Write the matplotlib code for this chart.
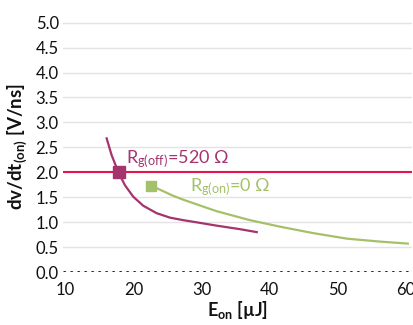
import matplotlib
matplotlib.use("Agg")
import matplotlib.pyplot as plt
import numpy as np

plt.rcParams['font.family'] = ['Lato', 'DejaVu Sans']
plt.rcParams['mathtext.default'] = 'regular'

# Data
off_x = [16.05, 16.78, 17.75, 18.74, 19.96, 21.42, 23.39, 25.37, 27.3, 28.9, 32.2, 35.6, 38.1]
off_y = [2.68, 2.345, 2.01, 1.74, 1.51, 1.33, 1.18, 1.09, 1.04, 1.005, 0.93, 0.86, 0.80]
on_x = [22.5, 23.1, 25.8, 27.3, 30.7, 32.2, 37.1, 41.5, 46.4, 51.3, 56.2, 60.3]
on_y = [1.72, 1.70, 1.53, 1.45, 1.29, 1.22, 1.04, 0.91, 0.78, 0.67, 0.61, 0.57]
off_marker = (17.8, 2.0)
on_marker = (22.5, 1.72)
limit_y = 2.0
yticks = [0.0, 0.5, 1.0, 1.5, 2.0, 2.5, 3.0, 3.5, 4.0, 4.5, 5.0]
xticks = [10, 20, 30, 40, 50, 60]

MAG = '#a5336e'
RED = '#e3154a'
GRN = '#a4c16a'

fig = plt.figure(figsize=(4.14, 3.25), dpi=100)
ax = fig.add_axes([0.152, 0.163, 0.843, 0.775])

ax.set_xlim(9.63, 60.9)
ax.set_ylim(0, 5.05)
ax.set_yticks(yticks)
ax.set_yticklabels([f"{v:.1f}" for v in yticks])
ax.set_xticks(xticks)
ax.grid(axis='y', color='#e6e2e4', linewidth=1.0)
ax.set_axisbelow(True)
for s in ax.spines.values():
    s.set_visible(False)
ax.tick_params(length=0, labelsize=12, pad=3, labelcolor='#111111')
ax.tick_params(axis='x', pad=7)

ax.axhline(0, color='black', linestyle=(0, (0.9, 1.75)), linewidth=1.9,
           zorder=3)
ax.axhline(limit_y, color=RED, linewidth=1.5, zorder=2)

ax.plot(off_x, off_y, color=MAG, linewidth=1.6, zorder=3, solid_joinstyle='round')
ax.plot(on_x, on_y, color=GRN, linewidth=1.6, zorder=3, solid_joinstyle='round')
ax.plot(*off_marker, marker='s', markersize=8, color=MAG, zorder=4)
ax.plot(*on_marker, marker='s', markersize=7.5, color=GRN, zorder=4)

ax.text(18.95, 2.18, r"R$_{g(off)}$=520 Ω", color=MAG, fontsize=13, va='baseline')
ax.text(28.3, 1.61, r"R$_{g(on)}$=0 Ω", color=GRN, fontsize=13, va='baseline')

ax.set_xlabel(r"E$_{on}$ [µJ]", fontsize=13, fontweight='bold', labelpad=1, color='#111111')
ax.set_ylabel(r"dv/dt$_{(on)}$ [V/ns]", fontsize=13.5, fontweight='bold', labelpad=5, color='#111111')

fig.savefig("out.png", dpi=100)
